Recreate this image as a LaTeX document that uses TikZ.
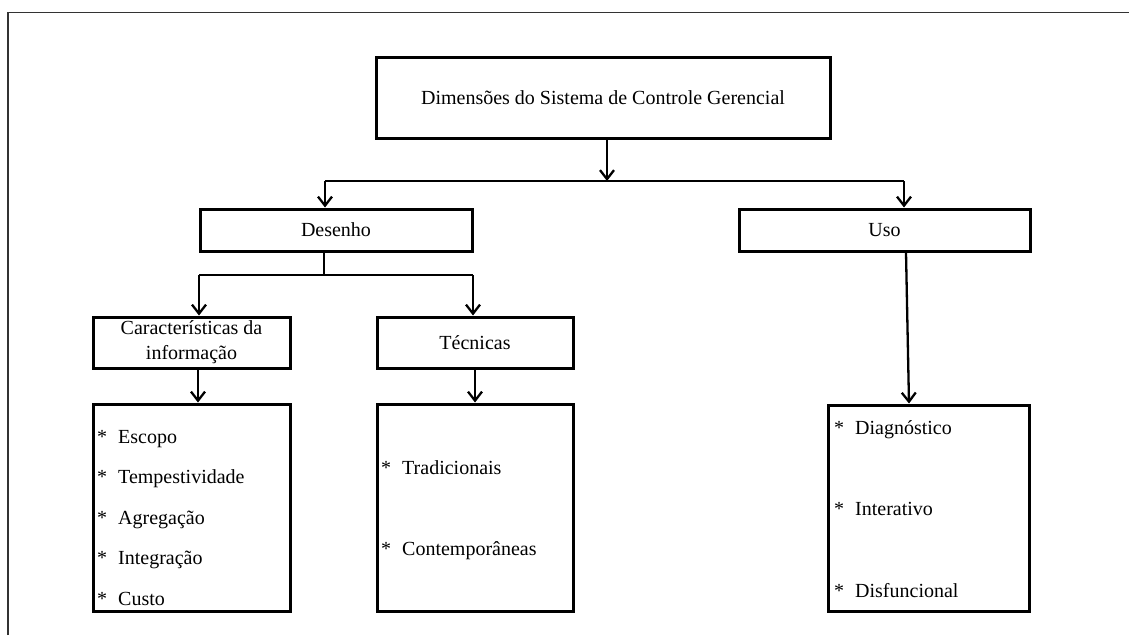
\documentclass[tikz,border=0pt]{standalone}
\usepackage{fontspec}
\setmainfont{Liberation Serif}
\usetikzlibrary{arrows.meta}
\begin{document}
\begin{tikzpicture}[x=1pt,y=-1pt,
  box/.style={draw=black, line width=3pt, inner sep=0pt, rectangle,
    font=\fontsize{20}{25}\selectfont, align=center},
  item/.style={anchor=base west, inner sep=0pt, font=\fontsize{20}{24}\selectfont},
  conn/.style={line width=2.3pt, draw=black},
  arr/.style={conn, -{Straight Barb[length=9pt,width=14pt,line width=2.3pt]}},
  framel/.style={line width=1.3pt, draw=black!80}
]
\useasboundingbox (0,0) rectangle (1129,635);
% frame
\coordinate (fb) at (8,635);
\coordinate (fc) at (8,12.5);
\coordinate (fr) at (1129,12.5);
\draw[framel] (fb) -- (fc) -- (fr);

% boxes
\node[box, minimum width=454pt, minimum height=81pt] (top) at (603,97.5) {Dimensões do Sistema de Controle Gerencial};
\node[box, minimum width=272pt, minimum height=42pt] (desenho) at (336,230) {Desenho};
\node[box, minimum width=291pt, minimum height=42pt] (uso) at (884.5,230) {Uso};
\node[box, minimum width=197pt, minimum height=51pt] (car) at (191.5,342.5) {Características da\\informação};
\node[box, minimum width=196pt, minimum height=51pt] (tec) at (475,342.5) {Técnicas};
\node[box, minimum width=197pt, minimum height=207pt] (carlist) at (191.5,507.5) {};
\node[box, minimum width=196pt, minimum height=207pt] (teclist) at (475,507.5) {};
\node[box, minimum width=201pt, minimum height=206pt] (usolist) at (928.5,508) {};

% list items
\node[item] (l1) at (97,443) {\makebox[21pt][l]{*}Escopo};
\node[item] (l2) at (97,483.5) {\makebox[21pt][l]{*}Tempestividade};
\node[item] (l3) at (97,524) {\makebox[21pt][l]{*}Agregação};
\node[item] (l4) at (97,564.5) {\makebox[21pt][l]{*}Integração};
\node[item] (l5) at (97,605) {\makebox[21pt][l]{*}Custo};

\node[item] (t1) at (381,474) {\makebox[21pt][l]{*}Tradicionais};
\node[item] (t2) at (381,555) {\makebox[21pt][l]{*}Contemporâneas};

\node[item] (u1) at (834,434) {\makebox[21pt][l]{*}Diagnóstico};
\node[item] (u2) at (834,515) {\makebox[21pt][l]{*}Interativo};
\node[item] (u3) at (834,597) {\makebox[21pt][l]{*}Disfuncional};

% connectors: top level
\coordinate (j1) at (607,181);
\coordinate (hl) at (325,181);
\coordinate (hr) at (904,181);
\draw[arr] (top.south -| j1) -- (j1);
\draw[conn] (hl) -- (hr);
\draw[arr] (hl) -- (hl |- desenho.north);
\draw[arr] (hr) -- (hr |- uso.north);

% Desenho branch
\coordinate (d1) at (324,275);
\coordinate (dl) at (199,275);
\coordinate (dr) at (473,275);
\draw[conn] (desenho.south -| d1) -- (d1);
\draw[conn] (dl) -- (dr);
\draw[arr] (dl) -- (dl |- car.north);
\draw[arr] (dr) -- (dr |- tec.north);

% to lists
\coordinate (c1) at (198,0);
\coordinate (c2) at (475,0);
\coordinate (c3) at (906,0);
\coordinate (c4) at (909,0);
\draw[arr] (car.south -| c1) -- (carlist.north -| c1);
\draw[arr] (tec.south -| c2) -- (teclist.north -| c2);
\draw[arr] (uso.south -| c3) -- (usolist.north -| c4);
\end{tikzpicture}
\end{document}
